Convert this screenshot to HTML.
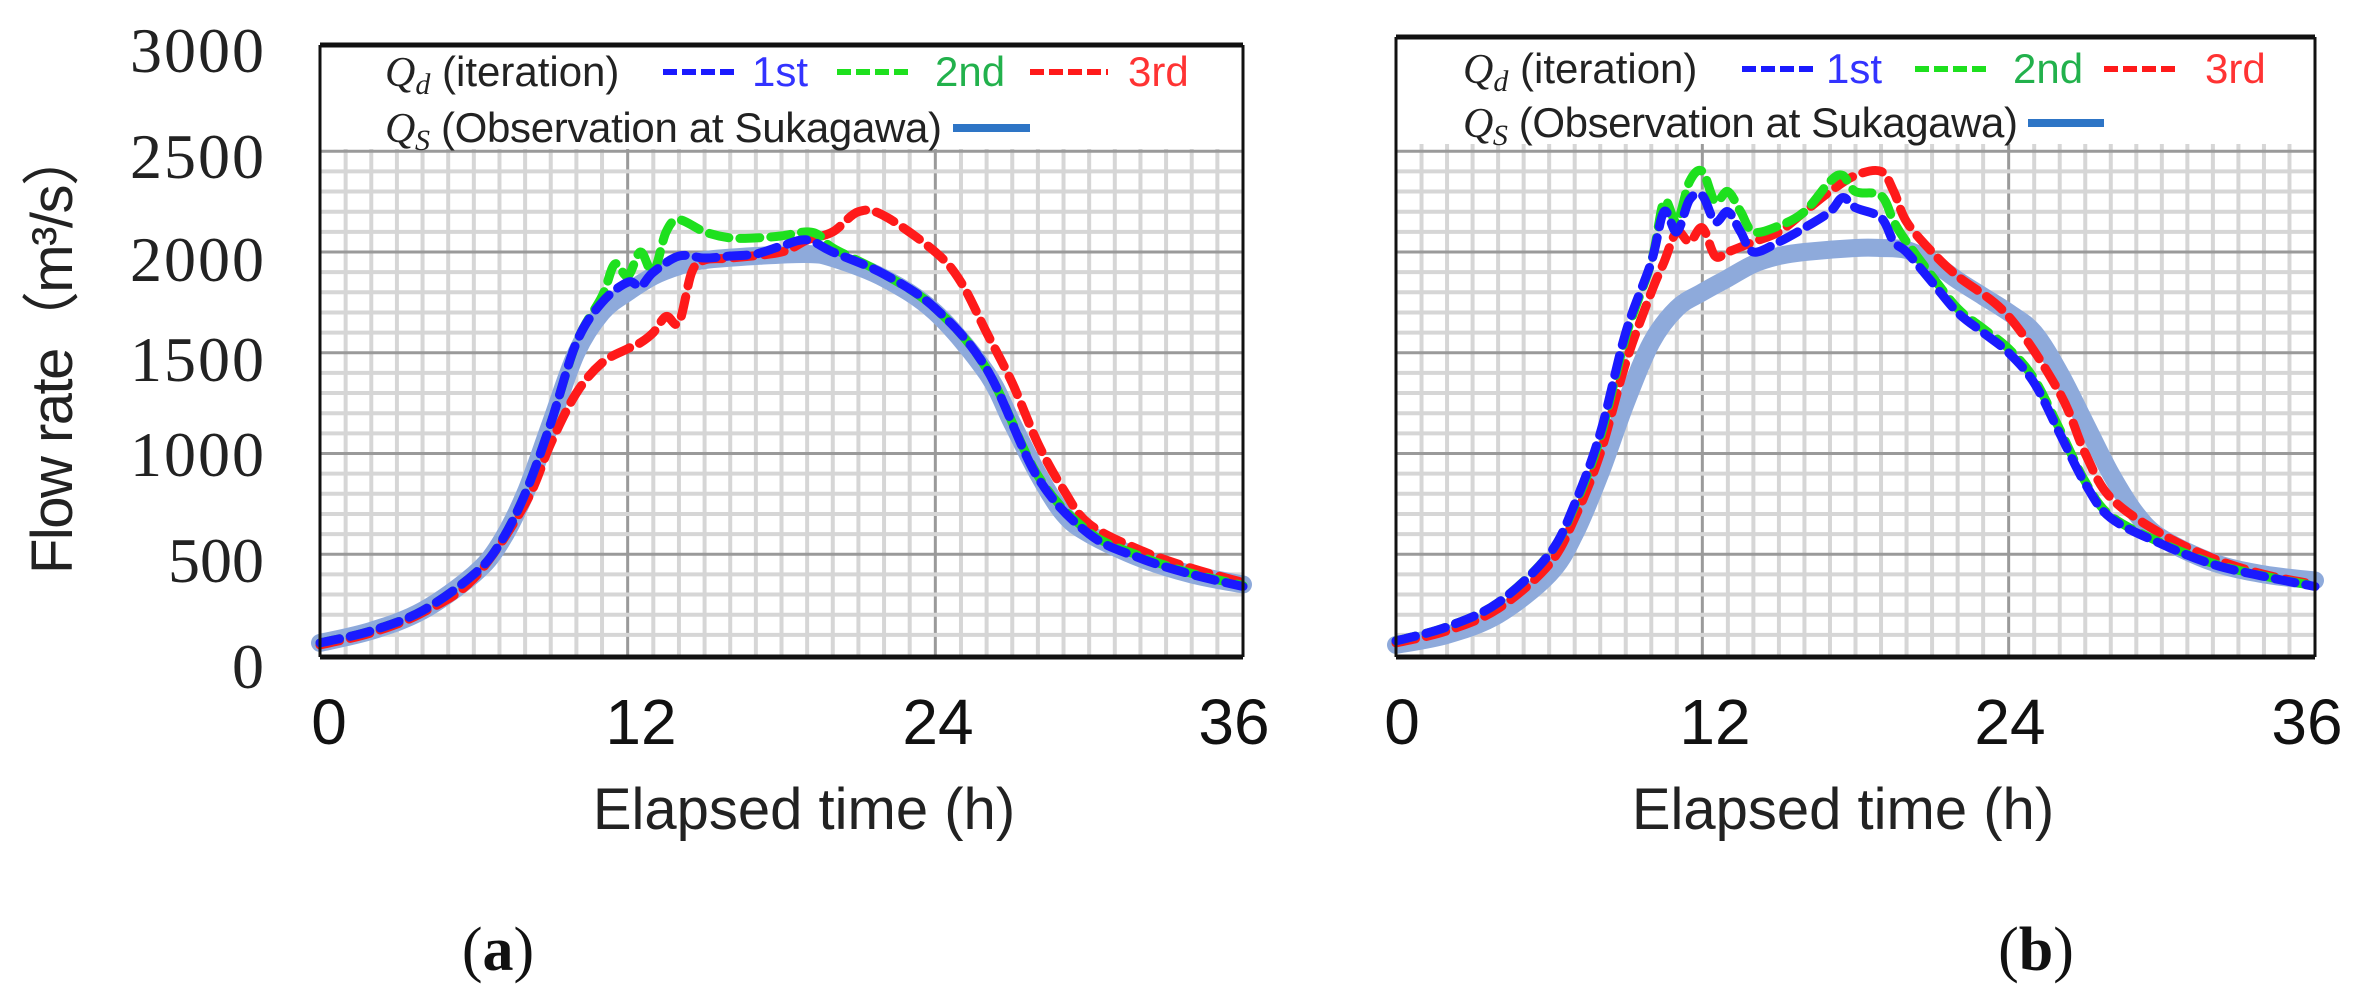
<!DOCTYPE html>
<html><head><meta charset="utf-8"><style>
html,body{margin:0;padding:0;background:#fff;}
svg{display:block;}
</style></head><body>
<svg id="s" width="2364" height="1005" viewBox="0 0 2364 1005" xmlns="http://www.w3.org/2000/svg">
<rect width="2364" height="1005" fill="#fff"/>
<g id="grid"></g>
<g id="curves"></g>
<g id="frames"></g>
<g font-family="Liberation Serif, serif" font-size="64" fill="#222" text-anchor="end">
<text x="264" y="72" textLength="134">3000</text>
<text x="264" y="178" textLength="134">2500</text>
<text x="264" y="281" textLength="134">2000</text>
<text x="264" y="381" textLength="134">1500</text>
<text x="264" y="476" textLength="134">1000</text>
<text x="264" y="582">500</text>
<text x="264" y="688">0</text>
</g>
<text transform="translate(72,351) rotate(-90)" font-family="Liberation Sans, Noto Sans CJK JP, sans-serif" font-size="58" fill="#222" text-anchor="middle" textLength="446">Flow rate（m³/s）</text>
<g font-family="Liberation Sans, sans-serif" font-size="64" fill="#111" text-anchor="middle">
<text x="329" y="744">0</text><text x="641" y="744">12</text><text x="938" y="744">24</text><text x="1234" y="744">36</text>
<text x="1402" y="744">0</text><text x="1715" y="744">12</text><text x="2010" y="744">24</text><text x="2307" y="744">36</text>
</g>
<g font-family="Liberation Sans, sans-serif" font-size="58" fill="#222" text-anchor="middle">
<text x="804" y="829">Elapsed time (h)</text>
<text x="1843" y="829">Elapsed time (h)</text>
</g>
<g font-family="Liberation Serif, serif" font-size="62" fill="#111" text-anchor="middle">
<text x="498" y="970">(<tspan font-weight="bold">a</tspan>)</text>
<text x="2036" y="970">(<tspan font-weight="bold">b</tspan>)</text>
</g>
<g id="legends"></g>
</svg>
<script>
var NS="http://www.w3.org/2000/svg";
function el(p,t,a,txt){var e=document.createElementNS(NS,t);for(var k in a)e.setAttribute(k,a[k]);if(txt!==undefined)e.textContent=txt;p.appendChild(e);return e;}
var P=[{x0:320,x1:1243,top:45,gtop:149,bot:657},{x0:1396,x1:2315,top:37,gtop:144,bot:657}];
var grid=document.getElementById('grid'),frames=document.getElementById('frames'),curves=document.getElementById('curves');
function Y(q){return 655-q*0.2015;}
P.forEach(function(p){
 p.sx=(p.x1-p.x0)/36;
 for(var h=1;h<36;h++){var x=p.x0+h*p.sx;var maj=(h%12==0);
  el(grid,'line',{x1:x,x2:x,y1:p.gtop,y2:p.bot,stroke:maj?'#9a9a9a':'#d6d6d6','stroke-width':maj?3:4});}
 for(var q=100;q<=2500;q+=100){var y=Y(q);var maj=(q%500==0);
  el(grid,'line',{x1:p.x0,x2:p.x1,y1:y,y2:y,stroke:maj?'#9a9a9a':'#d6d6d6','stroke-width':maj?3:4});}
 el(frames,'line',{x1:p.x0,x2:p.x1,y1:p.top,y2:p.top,stroke:'#111','stroke-width':5});
 el(frames,'line',{x1:p.x0,x2:p.x1,y1:p.bot,y2:p.bot,stroke:'#111','stroke-width':5});
 el(frames,'line',{x1:p.x0,x2:p.x0,y1:p.top,y2:p.bot,stroke:'#111','stroke-width':3});
 el(frames,'line',{x1:p.x1,x2:p.x1,y1:p.top,y2:p.bot,stroke:'#111','stroke-width':3});
});
function path(p,d){
 var pts=d.map(function(a){return [p.x0+a[0]*p.sx,Y(a[1])];});
 var s='M'+pts[0][0]+','+pts[0][1];
 for(var i=0;i<pts.length-1;i++){var p0=pts[i-1]||pts[i],p1=pts[i],p2=pts[i+1],p3=pts[i+2]||p2;
  s+=' C'+(p1[0]+(p2[0]-p0[0])/6)+','+(p1[1]+(p2[1]-p0[1])/6)+' '+(p2[0]-(p3[0]-p1[0])/6)+','+(p2[1]-(p3[1]-p1[1])/6)+' '+p2[0]+','+p2[1];}
 return s;}
var obsA=[[0,60],[2,120],[4,220],[6,400],[7,550],[8,800],[9,1150],[10,1500],[11,1700],[12,1800],[13,1880],[14,1930],[15,1960],[17,1980],[19,1990],[20,1970],[22,1870],[24,1700],[26,1400],[27,1150],[28,900],[29,700],[30,600],[32,480],[34,400],[36,350]];
var blueA=[[0,60],[2,120],[4,220],[6,400],[7,550],[8,800],[9,1150],[10,1550],[11,1750],[12,1850],[12.5,1830],[13,1900],[14,1980],[15,1970],[16,1980],[17,1990],[18,2030],[19,2060],[20,2000],[22,1890],[24,1720],[26,1420],[28,880],[30,600],[32,480],[34,400],[36,340]];
var greenA=[[0,60],[2,120],[4,220],[6,400],[7,550],[8,800],[9,1150],[10,1550],[11,1780],[11.5,1940],[12,1880],[12.5,2000],[13,1900],[13.5,2100],[14,2160],[15,2100],[16,2070],[17,2070],[18,2080],[19,2100],[19.5,2080],[20,2020],[22,1890],[24,1720],[26,1420],[28,890],[30,610],[32,490],[34,405],[36,345]];
var redA=[[0,50],[2,110],[4,210],[6,380],[8,750],[9,1050],[10,1300],[11,1450],[12,1520],[12.5,1550],[13,1600],[13.5,1680],[14,1650],[14.5,1900],[15,1960],[16,1970],[18,2000],[19,2060],[20,2100],[21,2200],[22,2180],[24,2000],[25,1850],[26,1600],[27,1350],[28,1050],[29,820],[30,650],[32,520],[34,430],[36,360]];
var obsB=[[0,50],[2,100],[4,200],[6,400],[7,600],[8,900],[9,1250],[10,1550],[11,1720],[12,1800],[13,1870],[14,1940],[15,1980],[16,2000],[18,2020],[19,2020],[20,2010],[21,1950],[22,1860],[23,1780],[24,1700],[25,1600],[26,1400],[27,1150],[28,900],[29,700],[30,580],[32,460],[34,400],[36,370]];
var blueB=[[0,70],[2,140],[4,260],[6,500],[7,750],[8,1100],[9,1600],[10,1950],[10.5,2200],[11,2100],[11.5,2260],[12,2280],[12.5,2150],[13,2200],[13.5,2100],[14,2000],[15,2050],[16,2120],[17,2200],[17.5,2270],[18,2220],[19,2170],[19.5,2050],[20,2000],[21,1850],[22,1700],[23,1600],[24,1500],[25,1350],[26,1100],[27,850],[28,680],[30,550],[32,450],[34,390],[36,340]];
var greenB=[[0,70],[2,140],[4,260],[6,500],[7,740],[8,1080],[9,1580],[10,1950],[10.5,2250],[11,2150],[11.5,2350],[12,2400],[12.5,2250],[13,2300],[13.5,2200],[14,2100],[15,2130],[16,2200],[17,2350],[17.5,2380],[18,2300],[19,2280],[19.5,2150],[20,2050],[21,1880],[22,1720],[23,1620],[24,1520],[25,1370],[26,1120],[27,860],[28,690],[30,555],[32,455],[34,392],[36,342]];
var redB=[[0,60],[2,120],[4,230],[6,450],[7,680],[8,1000],[9,1450],[10,1800],[10.5,1950],[11,2100],[11.5,2050],[12,2120],[12.5,1980],[13,2000],[14,2050],[15,2100],[16,2200],[17,2300],[18,2380],[19,2400],[19.5,2300],[20,2150],[21,2000],[22,1880],[24,1680],[26,1300],[27,1000],[28,780],[30,600],[32,480],[34,400],[36,350]];
function draw(p,obs,b,g,r){
 el(curves,'path',{d:path(p,obs),fill:'none',stroke:'#8eaadb','stroke-width':18,'stroke-linecap':'round','stroke-linejoin':'round'});
 [[r,'#ff1a1a'],[g,'#1ee01e'],[b,'#1a1aff']].forEach(function(c){
  el(curves,'path',{d:path(p,c[0]),fill:'none',stroke:c[1],'stroke-width':9,'stroke-dasharray':'20 11','stroke-linecap':'round'});});
}
draw(P[0],obsA,blueA,greenA,redA);
draw(P[1],obsB,blueB,greenB,redB);
var lg=document.getElementById('legends');
function legend(o){
 el(lg,'rect',{x:o.fx+3,y:o.ftop+4,width:o.fw-6,height:o.gtop-o.ftop-4,fill:'#fff'});
 var t=el(lg,'text',{x:o.x,y:o.y1+14,'font-family':'Liberation Sans, sans-serif','font-size':42,fill:'#222'});
 el(t,'tspan',{'font-family':'Liberation Serif, serif','font-style':'italic'},'Q');
 el(t,'tspan',{'font-family':'Liberation Serif, serif','font-style':'italic','font-size':30,dy:8},'d');
 el(t,'tspan',{dy:-8},' (iteration)');
 var cols=[['#1a1aff','#3333ff','1st'],['#1ee01e','#22b14c','2nd'],['#ff1a1a','#ff3333','3rd']];
 for(var i=0;i<3;i++){var d=o.d[i];
  el(lg,'line',{x1:d[0],x2:d[1],y1:o.y1,y2:o.y1,stroke:cols[i][0],'stroke-width':6,'stroke-dasharray':'14 5'});
  el(lg,'text',{x:d[2],y:o.y1+14,'font-family':'Liberation Sans, sans-serif','font-size':42,fill:cols[i][1]},cols[i][2]);}
 var t2=el(lg,'text',{x:o.x,y:o.y2+14,'font-family':'Liberation Sans, sans-serif','font-size':42,fill:'#222'});
 el(t2,'tspan',{'font-family':'Liberation Serif, serif','font-style':'italic'},'Q');
 el(t2,'tspan',{'font-family':'Liberation Serif, serif','font-style':'italic','font-size':30,dy:8},'S');
 el(t2,'tspan',{dy:-8},' (Observation at Sukagawa)');
 t2.setAttribute('textLength',o.t2w);
 el(lg,'line',{x1:o.l2[0],x2:o.l2[1],y1:o.y2,y2:o.y2,stroke:'#2e75c6','stroke-width':8});
}
legend({fx:320,fw:923,ftop:45,gtop:149,x:385,y1:72,y2:128,t2w:557,d:[[663,739,752],[837,912,935],[1030,1108,1128]],l2:[953,1030]});
legend({fx:1396,fw:919,ftop:37,gtop:144,x:1463,y1:69,y2:123,t2w:555,d:[[1742,1817,1826],[1915,1991,2013],[2104,2179,2205]],l2:[2028,2104]});
document.getElementById('s').appendChild(frames);
</script>
</body></html>
